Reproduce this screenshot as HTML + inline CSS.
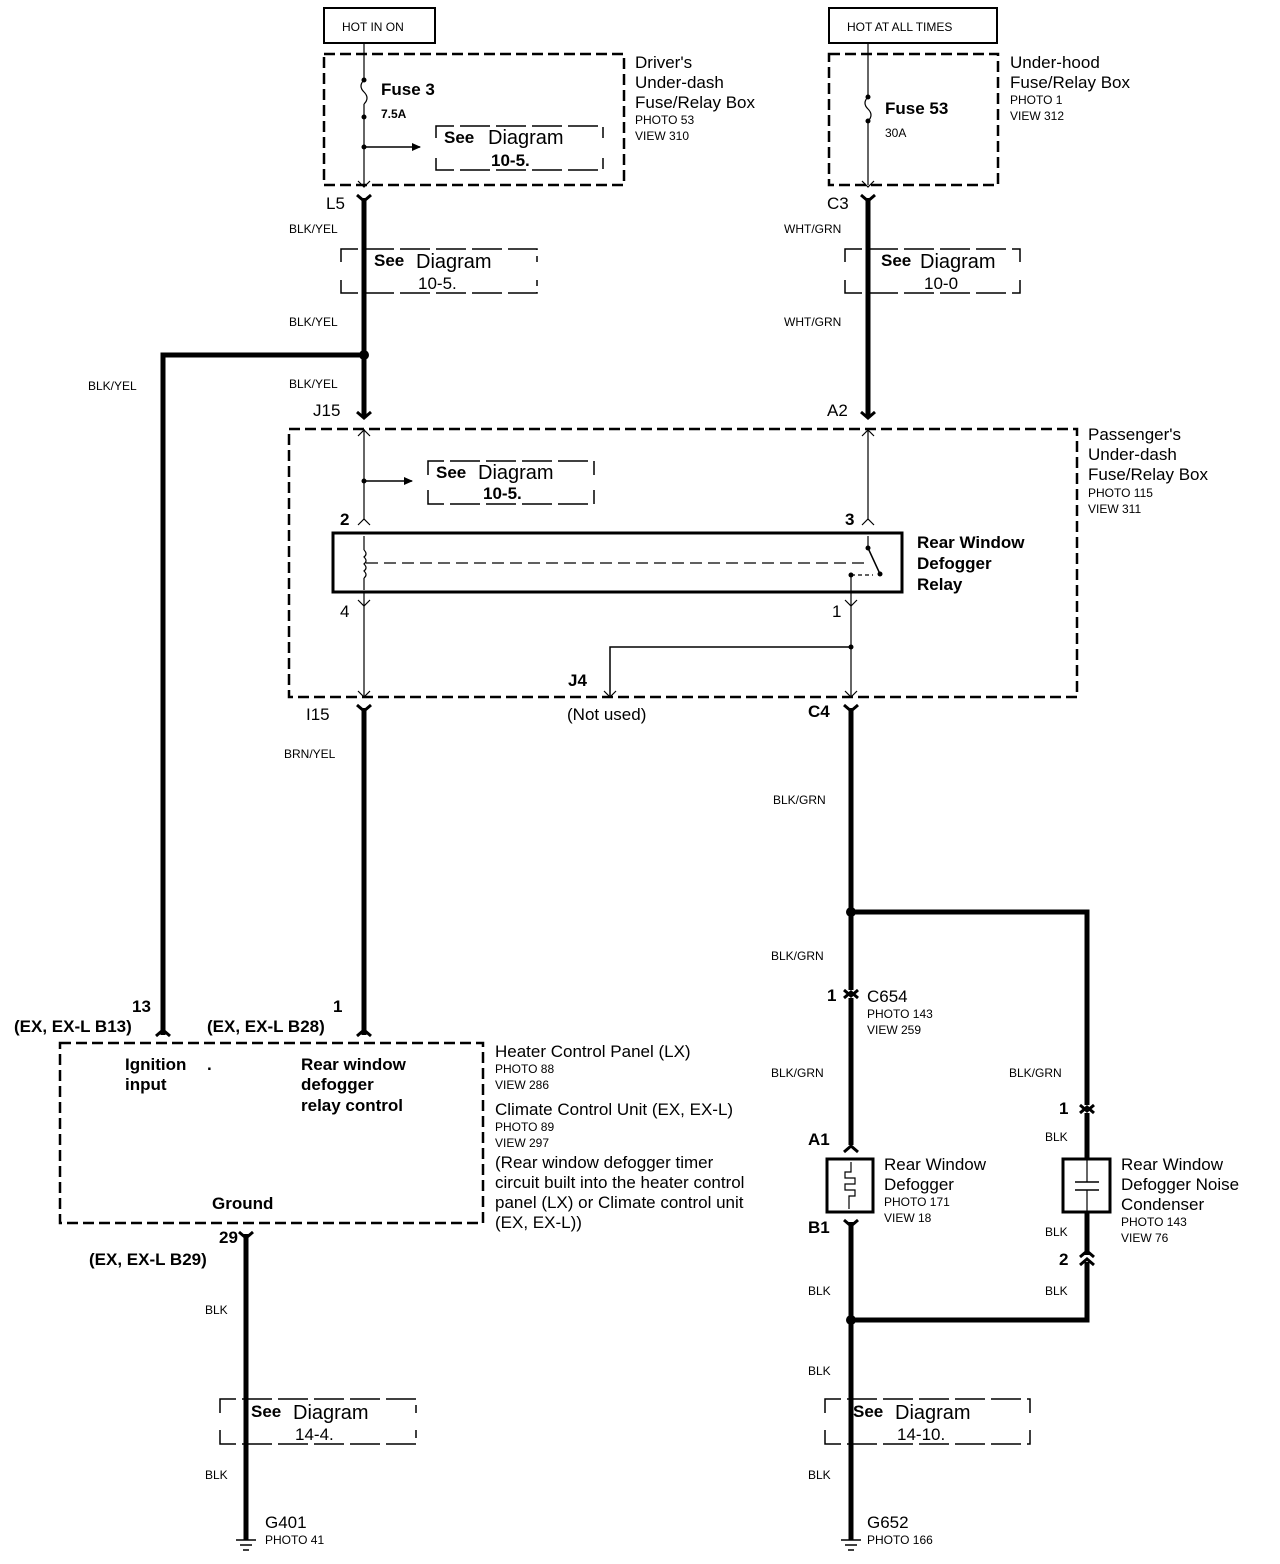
<!DOCTYPE html>
<html><head><meta charset="utf-8"><style>
html,body{margin:0;padding:0;background:#fff}
svg{display:block}
text{font-family:"Liberation Sans",Arial,sans-serif;fill:#000}
.b{font-weight:bold}
.s{font-size:12px}
.m{font-size:17px}
.l{font-size:20px}
</style></head><body>
<svg width="1280" height="1564" viewBox="0 0 1280 1564" xmlns="http://www.w3.org/2000/svg">
<defs>
<marker id="ar" markerWidth="10" markerHeight="10" refX="8" refY="5" orient="auto" markerUnits="userSpaceOnUse"><path d="M0,1 L9,5 L0,9 z" fill="#000"/></marker>
</defs>
<g fill="none" stroke="#000">
<!-- top boxes -->
<rect x="324" y="8" width="111" height="35" stroke-width="2"/>
<rect x="829" y="8" width="168" height="35" stroke-width="2"/>
<!-- Driver's fuse box -->
<rect x="324" y="54" width="300" height="131" stroke-width="2.5" stroke-dasharray="11,5"/>
<line x1="364" y1="43" x2="364" y2="80" stroke-width="1.2"/>
<path d="M364,80 q-6,6 0,12 q6,6 0,12" stroke-width="1.2"/>
<line x1="364" y1="104" x2="364" y2="185" stroke-width="1.2"/>
<line x1="364" y1="147" x2="420" y2="147" stroke-width="1.5" marker-end="url(#ar)"/>
<path d="M436,138 v-12 h167 v12 M436,158 v12 h167 v-12" stroke-width="1.5" stroke-dasharray="30,6"/>
<!-- Under-hood fuse box -->
<rect x="829" y="54" width="169" height="131" stroke-width="2.5" stroke-dasharray="11,5"/>
<line x1="868" y1="43" x2="868" y2="97" stroke-width="1.2"/>
<path d="M868,97 q-6,6 0,12 q6,6 0,12" stroke-width="1.2"/>
<line x1="868" y1="121" x2="868" y2="185" stroke-width="1.2"/>
<!-- connectors L5 / C3 -->
<path d="M358,181 l6,6 l6,-6 M862,181 l6,6 l6,-6" stroke-width="1.2"/>
<path d="M357,195 l7,6 l7,-6 M861,195 l7,6 l7,-6" stroke-width="3"/>
<line x1="364" y1="198" x2="364" y2="418" stroke-width="5"/>
<line x1="868" y1="198" x2="868" y2="418" stroke-width="5"/>
<path d="M357,412 l7,6 l7,-6 M861,412 l7,6 l7,-6" stroke-width="3"/>
<!-- See diagrams -->
<path d="M341,262 v-13 h196 v13 M341,280 v13 h196 v-13" stroke-width="1.5" stroke-dasharray="30,6"/>
<path d="M845,262 v-13 h175 v13 M845,280 v13 h175 v-13" stroke-width="1.5" stroke-dasharray="30,6"/>
<!-- junction to left -->
<polyline points="364,355 163,355 163,1035" stroke-width="5"/>
<!-- Passenger's box -->
<rect x="289" y="429" width="788" height="268" stroke-width="2.5" stroke-dasharray="11,5"/>
<line x1="364" y1="429" x2="364" y2="520" stroke-width="1.2"/>
<path d="M358,436 l6,-6 l6,6 M862,436 l6,-6 l6,6" stroke-width="1.2"/>
<line x1="868" y1="429" x2="868" y2="520" stroke-width="1.2"/>
<line x1="364" y1="481" x2="412" y2="481" stroke-width="1.5" marker-end="url(#ar)"/>
<path d="M428,475 v-14 h166 v14 M428,490 v14 h166 v-14" stroke-width="1.5" stroke-dasharray="30,6"/>
<path d="M358,525 l6,-6 l6,6 M862,525 l6,-6 l6,6" stroke-width="1.2"/>
<!-- relay -->
<rect x="333" y="533" width="569" height="59" stroke-width="3"/>
<line x1="364" y1="536" x2="364" y2="550" stroke-width="1.2"/>
<path d="M364,550 q4,4 0,7 q4,4 0,7 q4,4 0,7 q4,4 0,7" stroke-width="1.2"/>
<line x1="364" y1="578" x2="364" y2="590" stroke-width="1.2"/>
<line x1="366" y1="563" x2="870" y2="563" stroke-width="1.2" stroke-dasharray="12,6"/>
<line x1="868" y1="536" x2="868" y2="548" stroke-width="1.2"/>
<line x1="868" y1="548" x2="880" y2="574" stroke-width="1.5"/>
<path d="M851,575 h22" stroke-width="1.2" stroke-dasharray="4,3"/>
<line x1="851" y1="575" x2="851" y2="697" stroke-width="1.2"/>
<line x1="364" y1="592" x2="364" y2="697" stroke-width="1.2"/>
<path d="M358,600 l6,6 l6,-6 M845,600 l6,6 l6,-6" stroke-width="1.2"/>
<polyline points="851,647 610,647 610,697" stroke-width="1.5"/>
<path d="M358,691 l6,6 l6,-6 M845,691 l6,6 l6,-6 M604,691 l6,6 l6,-6" stroke-width="1.2"/>
<!-- I15 / C4 -->
<path d="M357,705 l7,6 l7,-6 M844,705 l7,6 l7,-6" stroke-width="3"/>
<line x1="364" y1="708" x2="364" y2="1035" stroke-width="5"/>
<line x1="851" y1="708" x2="851" y2="990" stroke-width="5"/>
<path d="M156,1036 l7,-6 l7,6 M357,1036 l7,-6 l7,6" stroke-width="3"/>
<!-- branch right -->
<polyline points="851,912 1087,912 1087,1105" stroke-width="5"/>
<path d="M1080,1105 l7,6 l7,-6 M1080,1113 l7,-6 l7,6" stroke-width="3"/>
<line x1="1087" y1="1113" x2="1087" y2="1158" stroke-width="5"/>
<!-- C654 -->
<path d="M844,990 l7,6 l7,-6 M844,998 l7,-6 l7,6" stroke-width="3"/>
<line x1="851" y1="998" x2="851" y2="1145" stroke-width="5"/>
<path d="M844,1152 l7,-6 l7,6" stroke-width="3"/>
<!-- defogger -->
<rect x="827" y="1159" width="46" height="53" stroke-width="3"/>
<path d="M851,1162 v10 h-6 v6 h10 v6 h-10 v6 h10 v6 h-6 v13" stroke-width="1.2"/>
<path d="M844,1220 l7,6 l7,-6" stroke-width="3"/>
<line x1="851" y1="1222" x2="851" y2="1540" stroke-width="5"/>
<!-- condenser -->
<rect x="1063" y="1159" width="47" height="53" stroke-width="3"/>
<line x1="1087" y1="1160" x2="1087" y2="1182" stroke-width="1.2"/>
<line x1="1075" y1="1182" x2="1099" y2="1182" stroke-width="1.5"/>
<line x1="1075" y1="1190" x2="1099" y2="1190" stroke-width="1.5"/>
<line x1="1087" y1="1190" x2="1087" y2="1212" stroke-width="1.2"/>
<line x1="1087" y1="1212" x2="1087" y2="1255" stroke-width="5"/>
<path d="M1080,1257 l7,-6 l7,6 M1080,1265 l7,-6 l7,6" stroke-width="3"/>
<polyline points="1087,1262 1087,1320 851,1320" stroke-width="5"/>
<!-- heater box -->
<rect x="60" y="1043" width="423" height="180" stroke-width="2.5" stroke-dasharray="11,5"/>
<path d="M239,1232 l7,6 l7,-6" stroke-width="3"/>
<line x1="246" y1="1234" x2="246" y2="1540" stroke-width="5"/>
<!-- bottom see diagrams -->
<path d="M220,1413 v-14 h196 v14 M220,1430 v14 h196 v-14" stroke-width="1.5" stroke-dasharray="30,6"/>
<path d="M825,1413 v-14 h205 v14 M825,1430 v14 h205 v-14" stroke-width="1.5" stroke-dasharray="30,6"/>
<!-- grounds -->
<path d="M236,1540 h20 M240,1545 h12 M243,1550 h6" stroke-width="1.5"/>
<path d="M841,1540 h20 M845,1545 h12 M848,1550 h6" stroke-width="1.5"/>
</g>
<!-- dots -->
<g fill="#000">
<circle cx="364" cy="355" r="5"/><circle cx="851" cy="912" r="5"/><circle cx="851" cy="1320" r="5"/>
<circle cx="364" cy="147" r="2.5"/><circle cx="364" cy="117" r="2.5"/><circle cx="364" cy="80" r="2.5"/>
<circle cx="868" cy="97" r="2.5"/><circle cx="868" cy="121" r="2.5"/>
<circle cx="364" cy="481" r="2.5"/><circle cx="851" cy="647" r="2.5"/>
<circle cx="868" cy="548" r="2.5"/><circle cx="880" cy="574" r="2.5"/><circle cx="851" cy="575" r="2.5"/>
</g>
<!-- text -->
<text x="342" y="31" class="s">HOT IN ON</text>
<text x="847" y="31" class="s">HOT AT ALL TIMES</text>
<text x="381" y="95" class="m b">Fuse 3</text>
<text x="381" y="118" class="s b">7.5A</text>
<text x="885" y="114" class="m b">Fuse 53</text>
<text x="885" y="137" class="s">30A</text>
<text x="444" y="143" class="m b">See</text><text x="488" y="144" class="l">Diagram</text>
<text x="491" y="166" class="m b">10-5.</text>
<text x="635" y="68" class="m">Driver's</text>
<text x="635" y="88" class="m">Under-dash</text>
<text x="635" y="108" class="m">Fuse/Relay Box</text>
<text x="635" y="124" class="s">PHOTO 53</text>
<text x="635" y="140" class="s">VIEW 310</text>
<text x="1010" y="68" class="m">Under-hood</text>
<text x="1010" y="88" class="m">Fuse/Relay Box</text>
<text x="1010" y="104" class="s">PHOTO 1</text>
<text x="1010" y="120" class="s">VIEW 312</text>
<text x="326" y="209" class="m">L5</text>
<text x="827" y="209" class="m">C3</text>
<text x="289" y="233" class="s">BLK/YEL</text>
<text x="784" y="233" class="s">WHT/GRN</text>
<text x="374" y="266" class="m b">See</text><text x="416" y="268" class="l">Diagram</text>
<text x="418" y="289" class="m">10-5.</text>
<text x="881" y="266" class="m b">See</text><text x="920" y="268" class="l">Diagram</text>
<text x="924" y="289" class="m">10-0</text>
<text x="289" y="326" class="s">BLK/YEL</text>
<text x="784" y="326" class="s">WHT/GRN</text>
<text x="88" y="390" class="s">BLK/YEL</text>
<text x="289" y="388" class="s">BLK/YEL</text>
<text x="313" y="416" class="m">J15</text>
<text x="827" y="416" class="m">A2</text>
<text x="1088" y="440" class="m">Passenger's</text>
<text x="1088" y="460" class="m">Under-dash</text>
<text x="1088" y="480" class="m">Fuse/Relay Box</text>
<text x="1088" y="497" class="s">PHOTO 115</text>
<text x="1088" y="513" class="s">VIEW 311</text>
<text x="436" y="478" class="m b">See</text><text x="478" y="479" class="l">Diagram</text>
<text x="483" y="499" class="m b">10-5.</text>
<text x="340" y="525" class="m b">2</text>
<text x="845" y="525" class="m b">3</text>
<text x="917" y="548" class="m b">Rear Window</text>
<text x="917" y="569" class="m b">Defogger</text>
<text x="917" y="590" class="m b">Relay</text>
<text x="340" y="617" class="m">4</text>
<text x="832" y="617" class="m">1</text>
<text x="568" y="686" class="m b">J4</text>
<text x="567" y="720" class="m">(Not used)</text>
<text x="306" y="720" class="m">I15</text>
<text x="808" y="717" class="m b">C4</text>
<text x="284" y="758" class="s">BRN/YEL</text>
<text x="773" y="804" class="s">BLK/GRN</text>
<text x="771" y="960" class="s">BLK/GRN</text>
<text x="827" y="1001" class="m b">1</text>
<text x="867" y="1002" class="m">C654</text>
<text x="867" y="1018" class="s">PHOTO 143</text>
<text x="867" y="1034" class="s">VIEW 259</text>
<text x="132" y="1012" class="m b">13</text>
<text x="14" y="1032" class="m b">(EX, EX-L B13)</text>
<text x="333" y="1012" class="m b">1</text>
<text x="207" y="1032" class="m b">(EX, EX-L B28)</text>
<text x="125" y="1070" class="m b">Ignition</text>
<text x="125" y="1090" class="m b">input</text>
<text x="207" y="1070" class="m b">.</text>
<text x="301" y="1070" class="m b">Rear window</text>
<text x="301" y="1090" class="m b">defogger</text>
<text x="301" y="1111" class="m b">relay control</text>
<text x="212" y="1209" class="m b">Ground</text>
<text x="495" y="1057" class="m">Heater Control Panel (LX)</text>
<text x="495" y="1073" class="s">PHOTO 88</text>
<text x="495" y="1089" class="s">VIEW 286</text>
<text x="495" y="1115" class="m">Climate Control Unit (EX, EX-L)</text>
<text x="495" y="1131" class="s">PHOTO 89</text>
<text x="495" y="1147" class="s">VIEW 297</text>
<text x="495" y="1168" class="m">(Rear window defogger timer</text>
<text x="495" y="1188" class="m">circuit built into the heater control</text>
<text x="495" y="1208" class="m">panel (LX) or Climate control unit</text>
<text x="495" y="1228" class="m">(EX, EX-L))</text>
<text x="771" y="1077" class="s">BLK/GRN</text>
<text x="1009" y="1077" class="s">BLK/GRN</text>
<text x="1059" y="1114" class="m b">1</text>
<text x="1045" y="1141" class="s">BLK</text>
<text x="808" y="1145" class="m b">A1</text>
<text x="884" y="1170" class="m">Rear Window</text>
<text x="884" y="1190" class="m">Defogger</text>
<text x="884" y="1206" class="s">PHOTO 171</text>
<text x="884" y="1222" class="s">VIEW 18</text>
<text x="1121" y="1170" class="m">Rear Window</text>
<text x="1121" y="1190" class="m">Defogger Noise</text>
<text x="1121" y="1210" class="m">Condenser</text>
<text x="1121" y="1226" class="s">PHOTO 143</text>
<text x="1121" y="1242" class="s">VIEW 76</text>
<text x="808" y="1233" class="m b">B1</text>
<text x="1045" y="1236" class="s">BLK</text>
<text x="1059" y="1265" class="m b">2</text>
<text x="1045" y="1295" class="s">BLK</text>
<text x="808" y="1295" class="s">BLK</text>
<text x="219" y="1243" class="m b">29</text>
<text x="89" y="1265" class="m b">(EX, EX-L B29)</text>
<text x="205" y="1314" class="s">BLK</text>
<text x="808" y="1375" class="s">BLK</text>
<text x="251" y="1417" class="m b">See</text><text x="293" y="1419" class="l">Diagram</text>
<text x="295" y="1440" class="m">14-4.</text>
<text x="853" y="1417" class="m b">See</text><text x="895" y="1419" class="l">Diagram</text>
<text x="897" y="1440" class="m">14-10.</text>
<text x="205" y="1479" class="s">BLK</text>
<text x="808" y="1479" class="s">BLK</text>
<text x="265" y="1528" class="m">G401</text>
<text x="265" y="1544" class="s">PHOTO 41</text>
<text x="867" y="1528" class="m">G652</text>
<text x="867" y="1544" class="s">PHOTO 166</text>
</svg>
</body></html>
